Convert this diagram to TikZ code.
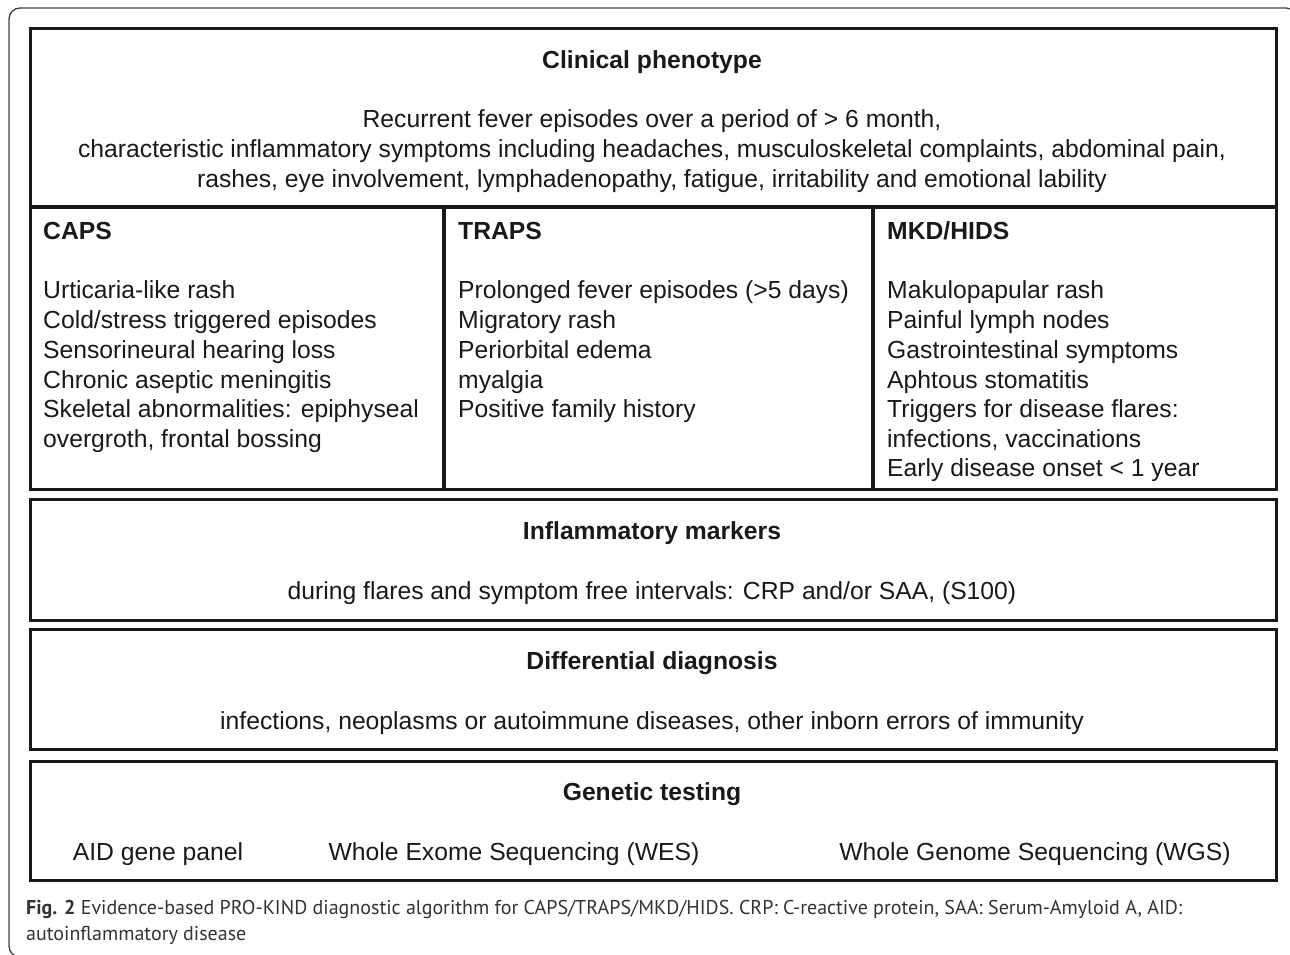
\documentclass[tikz,border=0pt]{standalone}
\usepackage{fontspec}
\setmainfont{Liberation Sans}
\newfontfamily\capfont{PT Sans}
\begin{document}
\begin{tikzpicture}[x=1pt,y=-1pt,
  boxline/.style={line width=3.4pt, draw=black!90, line join=miter},
  panel/.style={boxline, inner sep=0pt, anchor=north west},
  txt/.style={inner sep=0pt, text=black!90, font=\fontsize{24.7}{29}\selectfont},
  hd/.style={txt, font=\fontsize{24.7}{29}\selectfont\bfseries},
  item/.style={txt, anchor=base west},
  captxt/.style={inner sep=0pt, anchor=base west, text=black!80, font=\capfont\fontsize{20}{24}\selectfont}]
\useasboundingbox (0,0) rectangle (1290,954);
% outer frame
\draw[line width=1.3pt, black!75, rounded corners=11pt] (1297,30) -- (1297,8) -- (9,8) -- (9,957) -- (40,957);
% panels
\node[panel, minimum width=1246pt, minimum height=461pt] (pheno) at (29,27) {};
\draw[boxline] (29,207) -- (1275,207);
\draw[boxline] (444,207) -- (444,488);
\draw[boxline] (873,207) -- (873,488);
\node[panel, minimum width=1246pt, minimum height=121pt] (infl) at (29,498) {};
\node[panel, minimum width=1246pt, minimum height=120pt] (diff) at (29,628) {};
\node[panel, minimum width=1246pt, minimum height=119pt] (gen) at (29,760) {};
% phenotype texts
\node[hd, anchor=base] (ph) at (652,68) {Clinical phenotype};
\node[txt, anchor=base] (p1) at (652,127) {Recurrent fever episodes over a period of > 6 month,};
\node[txt, anchor=base] (p2) at (652,157) {characteristic inflammatory symptoms including headaches, musculoskeletal complaints, abdominal pain,};
\node[txt, anchor=base] (p3) at (652,187) {rashes, eye involvement, lymphadenopathy, fatigue, irritability and emotional lability};
% CAPS
\node[hd, anchor=base west] (caps) at (43,239) {CAPS};
\node[item] (c1) at (43,298) {Urticaria-like rash};
\node[item] (c2) at (43,328) {Cold/stress triggered episodes};
\node[item] (c3) at (43,358) {Sensorineural hearing loss};
\node[item] (c4) at (43,388) {Chronic aseptic meningitis};
\node[item] (c5) at (43,417) {Skeletal abnormalities: epiphyseal};
\node[item] (c6) at (43,447) {overgroth, frontal bossing};
% TRAPS
\node[hd, anchor=base west] (traps) at (458,239) {TRAPS};
\node[item] (t1) at (458,298) {Prolonged fever episodes (>5 days)};
\node[item] (t2) at (458,328) {Migratory rash};
\node[item] (t3) at (458,358) {Periorbital edema};
\node[item] (t4) at (458,388) {myalgia};
\node[item] (t5) at (458,417) {Positive family history};
% MKD/HIDS
\node[hd, anchor=base west] (mkd) at (887,239) {MKD/HIDS};
\node[item] (m1) at (887,298) {Makulopapular rash};
\node[item] (m2) at (887,328) {Painful lymph nodes};
\node[item] (m3) at (887,358) {Gastrointestinal symptoms};
\node[item] (m4) at (887,388) {Aphtous stomatitis};
\node[item] (m5) at (887,417) {Triggers for disease flares:};
\node[item] (m6) at (887,447) {infections, vaccinations};
\node[item] (m7) at (887,476) {Early disease onset < 1 year};
% inflammatory
\node[hd, anchor=base] (ih) at (652,539) {Inflammatory markers};
\node[txt, anchor=base] (it) at (652,599) {during flares and symptom free intervals: CRP and/or SAA, (S100)};
% differential
\node[hd, anchor=base] (dh) at (652,669) {Differential diagnosis};
\node[txt, anchor=base] (dt) at (652,729) {infections, neoplasms or autoimmune diseases, other inborn errors of immunity};
% genetic
\node[hd, anchor=base] (gh) at (652,800) {Genetic testing};
\node[txt, anchor=base] (g1) at (158,860) {AID gene panel};
\node[txt, anchor=base] (g2) at (514,860) {Whole Exome Sequencing (WES)};
\node[txt, anchor=base] (g3) at (1035,860) {Whole Genome Sequencing (WGS)};
% caption
\node[captxt] (cap1) at (26,914) {{\bfseries Fig. 2} Evidence-based PRO-KIND diagnostic algorithm for CAPS/TRAPS/MKD/HIDS. CRP: C-reactive protein, SAA: Serum-Amyloid A, AID:};
\node[captxt] (cap2) at (26,940) {autoinflammatory disease};
\end{tikzpicture}
\end{document}
